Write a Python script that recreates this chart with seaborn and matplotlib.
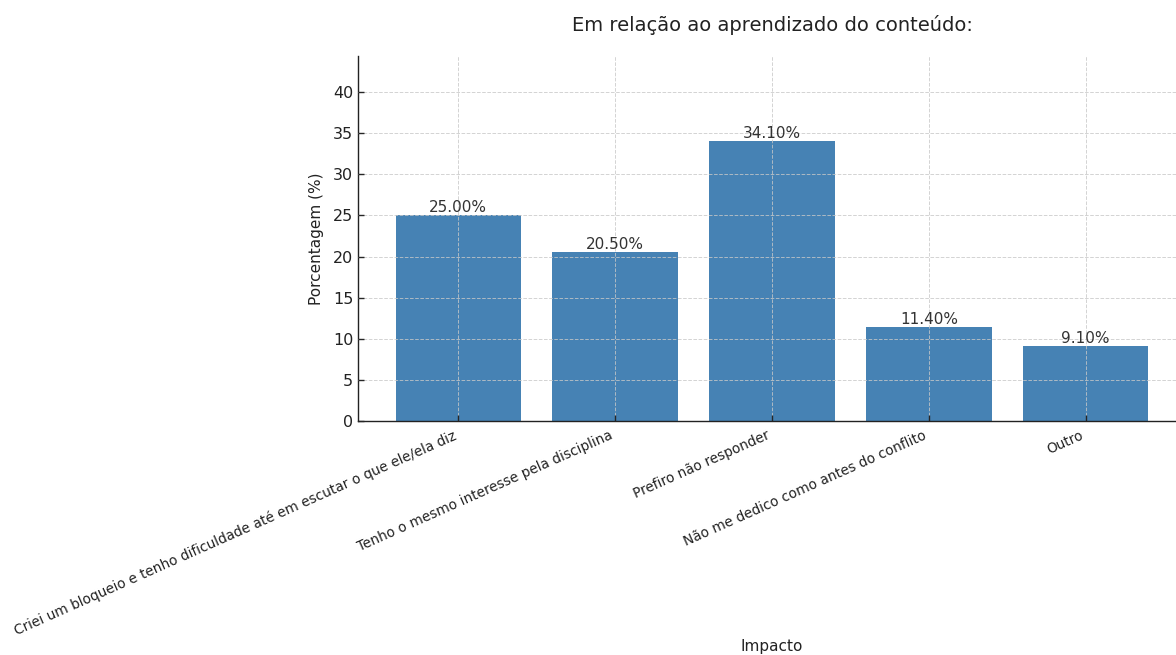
import matplotlib
matplotlib.use("Agg")
import matplotlib.pyplot as plt
import seaborn as sns
import pandas as pd

categories = [
    "Criei um bloqueio e tenho dificuldade até em escutar o que ele/ela diz",
    "Tenho o mesmo interesse pela disciplina",
    "Prefiro não responder",
    "Não me dedico como antes do conflito",
    "Outro",
]
values = [25.00, 20.50, 34.10, 11.40, 9.10]
yticks = [0, 5, 10, 15, 20, 25, 30, 35, 40]

title = "Em relação ao aprendizado do conteúdo:"
xlabel = "Impacto"
ylabel = "Porcentagem (%)"

sns.set_theme(style="white")
plt.rcParams["font.family"] = ["DejaVu Sans"]

df = pd.DataFrame({"cat": categories, "val": values})

fig = plt.figure(figsize=(11.76, 6.55), dpi=100)
W, H = 1176, 655
left, right, bottom, top = 358, 1186, 421, 56.4
ax = fig.add_axes([left / W, 1 - bottom / H, (right - left) / W, (bottom - top) / H])

sns.barplot(data=df, x="cat", y="val", hue="cat", palette=["#4682B4"] * len(categories),
            width=0.8, saturation=1, legend=False, ax=ax, edgecolor="none")

ax.set_xlim(-0.64, len(categories) - 1 + 0.64)
ax.set_ylim(0, max(values) * 1.3)
ax.set_yticks(yticks)

for i, v in enumerate(values):
    ax.text(i, v, f"{v:.2f}%", ha="center", va="bottom", fontsize=11, color="#333333")

ax.set_title(title, fontsize=14, color="#222222", pad=18.5)
ax.set_xlabel(xlabel, fontsize=11, color="#222222")
ax.xaxis.set_label_coords(0.5, (bottom - 639) / (bottom - top))
ax.set_ylabel(ylabel, fontsize=11, color="#222222", labelpad=6)

ax.set_xticks(range(len(categories)))
ax.set_xticklabels(categories, rotation=24, ha="right", fontsize=9.8, color="#222222")
ax.tick_params(axis="y", labelsize=11.5, labelcolor="#222222", direction="in", length=4, width=1, left=True)
ax.tick_params(axis="x", direction="in", length=4, width=1, bottom=True, pad=5.5)

ax.grid(True, linestyle="--", color="#c8c8c8", linewidth=0.7, alpha=0.8)
ax.set_axisbelow(False)
for s in ["top", "right"]:
    ax.spines[s].set_visible(False)
for s in ["left", "bottom"]:
    ax.spines[s].set_color("#222222")
    ax.spines[s].set_linewidth(1.0)

fig.savefig("out.png", dpi=100)
